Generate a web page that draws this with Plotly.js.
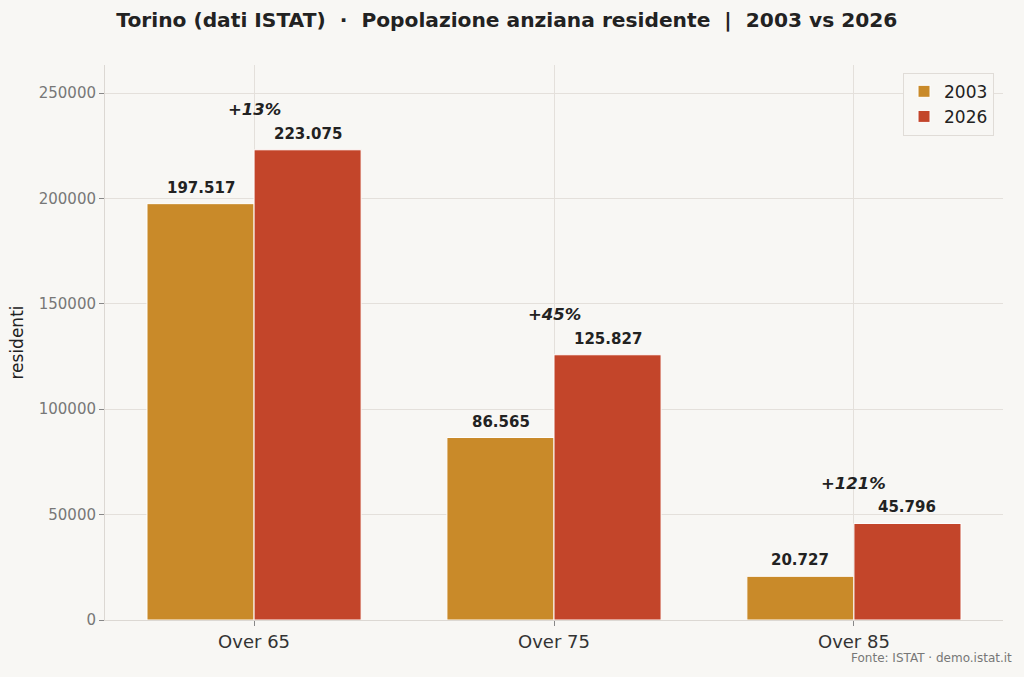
<!DOCTYPE html>
<html><head><meta charset="utf-8">
<script src="https://cdn.plot.ly/plotly-3.0.1.min.js"></script>
<style>html,body{margin:0;padding:0;background:#f8f7f4;}#chart{width:1024px;height:677px;}</style>
</head><body><div id="chart"></div>
<script>
const categories = ['Over 65', 'Over 75', 'Over 85'];
const years = ['2003', '2026'];
const values2003 = [197517, 86565, 20727];
const values2026 = [223075, 125827, 45796];
const colors = ['#c98a29', '#c3452a'];

function fmtIt(n) {
  return String(n).replace(/\B(?=(\d{3})+(?!\d))/g, '.');
}

const series = [values2003, values2026];
const traces = series.map((vals, i) => ({
  type: 'bar', name: years[i], x: categories, y: vals,
  marker: {color: colors[i], line: {color: '#ffffff', width: 1}},
  hoverinfo: 'skip'
}));

const annotations = [];
const BAR_PX = 107;
categories.forEach((c, k) => {
  series.forEach((vals, i) => {
    annotations.push({
      x: c, y: vals[k], xref: 'x', yref: 'y', text: '<b>' + fmtIt(vals[k]) + '</b>',
      showarrow: false, xshift: (i === 0 ? -1 : 1) * BAR_PX / 2, yshift: 16,
      font: {family: 'DejaVu Sans', size: 15, color: '#222'}
    });
  });
  const pct = Math.round((values2026[k] / values2003[k] - 1) * 100);
  annotations.push({
    x: c, y: Math.max(values2003[k], values2026[k]), xref: 'x', yref: 'y',
    text: '<b><i>+' + pct + '%</i></b>', showarrow: false, yshift: 40,
    font: {family: 'DejaVu Sans', size: 16.5, color: '#222'}
  });
});
annotations.push({
  x: 1, y: 0, xref: 'paper', yref: 'paper', xanchor: 'right', yanchor: 'top',
  xshift: 11, yshift: -29, text: 'Fonte: ISTAT · demo.istat.it', showarrow: false,
  font: {family: 'DejaVu Sans', size: 12, color: '#777'}
});

const layout = {
  width: 1024, height: 677,
  paper_bgcolor: '#f8f7f4', plot_bgcolor: '#f8f7f4',
  margin: {l: 105, r: 21, t: 65, b: 57},
  font: {family: 'DejaVu Sans', color: '#222'},
  title: {text: '<b>Torino (dati ISTAT)  ·  Popolazione anziana residente  |  2003 vs 2026</b>',
    x: 0.495, xanchor: 'center', y: 0.97, yanchor: 'middle', yref: 'container',
    font: {family: 'DejaVu Sans', size: 20.2, color: '#222'}},
  barmode: 'group', bargap: 0.286, bargroupgap: 0,
  xaxis: {type: 'category', range: [-0.497, 2.497], showgrid: true, gridcolor: '#e4e0db', gridwidth: 1,
    showline: true, linecolor: '#dcd8d3', linewidth: 1,
    ticks: 'outside', ticklen: 5, tickcolor: '#888', tickwidth: 1,
    tickfont: {size: 18, color: '#333'}},
  yaxis: {range: [0, 263300], tickvals: [0, 50000, 100000, 150000, 200000, 250000], tickformat: 'd',
    showgrid: true, gridcolor: '#e4e0db', gridwidth: 1, zeroline: false,
    showline: true, linecolor: '#dcd8d3', linewidth: 1,
    ticks: 'outside', ticklen: 5, tickcolor: '#888', tickwidth: 1,
    tickfont: {size: 15, color: '#777'},
    title: {text: 'residenti', font: {size: 17, color: '#222'}, standoff: 10}},
  legend: {x: 0.99, y: 0.986, xanchor: 'right', yanchor: 'top',
    bgcolor: '#f8f7f4', bordercolor: '#e0dcd7', borderwidth: 1,
    font: {size: 17, color: '#222'}},
  annotations: annotations,
  showlegend: true
};

Plotly.newPlot('chart', traces, layout, {displayModeBar: false, staticPlot: true});
</script></body></html>
